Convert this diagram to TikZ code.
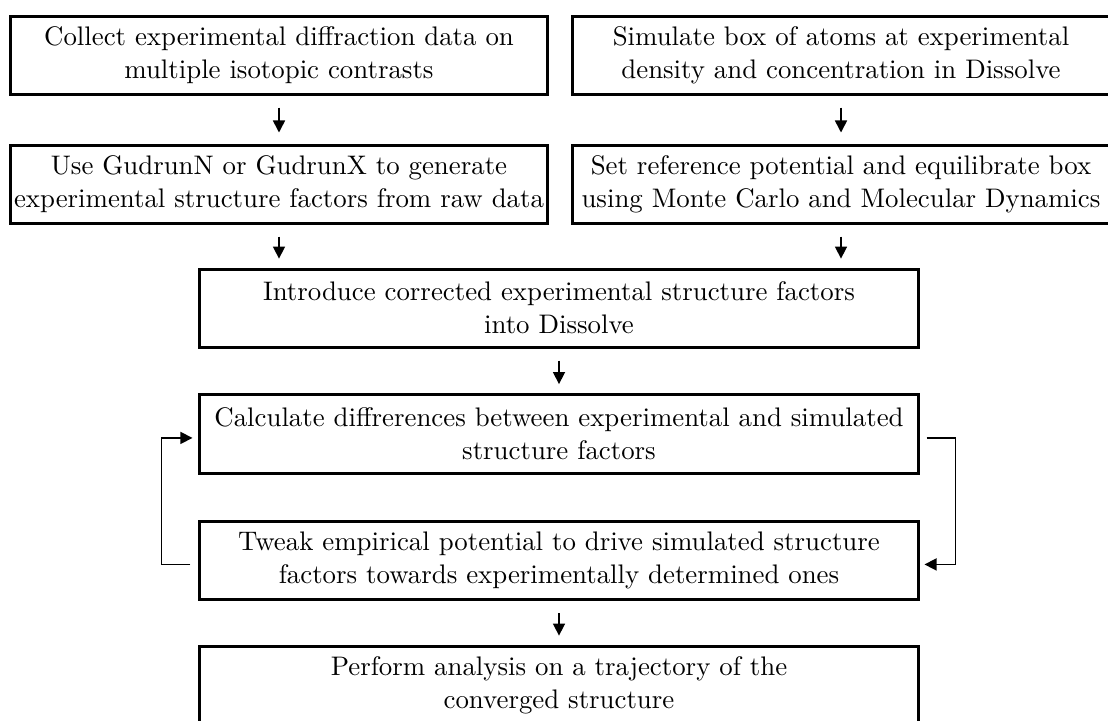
\documentclass[tikz,border=0pt]{standalone}
\usepackage{amsmath}
\usepackage{tikz}
\usetikzlibrary{arrows.meta}

\begin{document}
\begin{tikzpicture}[x=0.382pt,y=0.382pt]
\tikzstyle{every node}+=[inner sep=0pt]
\tikzstyle{stepbox}=[draw,line width=1.15pt,align=center,minimum height=29.8pt,font=\fontsize{10.25pt}{12.6pt}\selectfont]
\tikzstyle{flow}=[line width=0.6pt,-{Triangle[length=4.6pt,width=4.6pt]}]
\useasboundingbox (0,0) rectangle (1108,-720);
\node [stepbox,minimum width=205.1pt] (collect) at (279,-55) {Collect experimental diffraction data on\\multiple isotopic contrasts};
\node [stepbox,minimum width=205.1pt] (simulate) at (841,-55) {Simulate box of atoms at experimental\\density and concentration in Dissolve};
\node [stepbox,minimum width=205.1pt] (gudrun) at (279,-184) {Use GudrunN or GudrunX to generate\\experimental structure factors from raw data};
\node [stepbox,minimum width=205.1pt] (refpot) at (841,-184) {Set reference potential and equilibrate box\\using Monte Carlo and Molecular Dynamics};
\node [stepbox,minimum width=274.7pt] (intro) at (559,-308) {Introduce corrected experimental structure factors\\into Dissolve};
\node [stepbox,minimum width=274.7pt,minimum height=30.2pt] (calc) at (559,-434) {Calculate diffrerences between experimental and simulated\\structure factors};
\node [stepbox,minimum width=274.7pt,minimum height=30pt] (tweak) at (559,-560.5) {Tweak empirical potential to drive simulated structure\\factors towards experimentally determined ones};
\node [stepbox,minimum width=274.7pt] (perform) at (559,-685) {Perform analysis on a trajectory of the\\converged structure};
\draw [flow,shorten <=4.6pt,shorten >=4.2pt] (collect) -- (gudrun);
\draw [flow,shorten <=4.6pt,shorten >=4.2pt] (simulate) -- (refpot);
\draw [flow,shorten <=4.6pt,shorten >=3.4pt] (gudrun.south) -- (gudrun.south |- intro.north);
\draw [flow,shorten <=4.6pt,shorten >=3.4pt] (refpot.south) -- (refpot.south |- intro.north);
\draw [flow,shorten <=4.6pt,shorten >=3.4pt] (intro) -- (calc);
\draw [flow,shorten <=4.6pt,shorten >=3.4pt] (tweak) -- (perform);
% feedback loop
\draw [flow] ([xshift=-2.9pt,yshift=-1.5pt]tweak.west) -- ++(-29,0) |- ([xshift=-2.1pt,yshift=-1.5pt]calc.west);
\draw [flow] ([xshift=2.5pt,yshift=-1.5pt]calc.east) -- ++(29,0) |- ([xshift=1.7pt,yshift=-1.5pt]tweak.east);
\end{tikzpicture}
\end{document}
